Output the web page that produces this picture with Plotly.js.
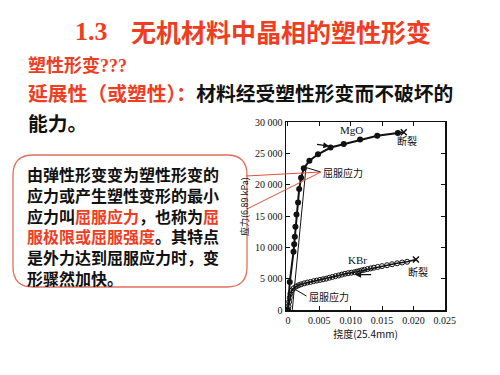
<!DOCTYPE html>
<html>
<head>
<meta charset="utf-8">
<script src="https://cdn.plot.ly/plotly-3.0.1.min.js"></script>
<style>
html,body{margin:0;padding:0;background:#fff;}
#chart{width:500px;height:375px;}
</style>
</head>
<body>
<div id="chart"></div>
<script>
// ---- data ----
var mgoX = [0, 0.0003, 0.0009, 0.0010, 0.0011, 0.0012, 0.00137, 0.00162, 0.00180, 0.0021, 0.00253, 0.00343, 0.0048, 0.0068, 0.0089, 0.0115, 0.01424, 0.01751];
var mgoY = [0, 4450, 9300, 10500, 11700, 13300, 15250, 17150, 19300, 21100, 22600, 23830, 24850, 25930, 26480, 27220, 27820, 28250];
var mgoBreak = [0.01846, 28360];
var offsetX = [0.0007, 0.0029];
var offsetY = [0, 22900];

var kbrX = [0, 0.0001, 0.0002, 0.0003, 0.0004, 0.0006, 0.0009, 0.0013, 0.0017, 0.0021, 0.0026, 0.0031, 0.0036, 0.0041, 0.0046, 0.0051, 0.0056, 0.0061, 0.0066, 0.0071, 0.0076, 0.0081, 0.0086, 0.0091, 0.0096, 0.0101, 0.0106, 0.0110, 0.0114, 0.0118, 0.0122, 0.0127, 0.0132, 0.0137, 0.0143, 0.0150, 0.0158, 0.0166, 0.0174, 0.0182, 0.0190];
var kbrY = [0, 600, 1300, 2000, 2600, 3100, 3450, 3750, 3950, 4100, 4250, 4380, 4480, 4600, 4700, 4800, 4900, 5000, 5150, 5280, 5400, 5520, 5650, 5780, 5880, 5950, 6030, 6120, 6220, 6330, 6430, 6530, 6640, 6750, 6870, 7000, 7150, 7300, 7450, 7580, 7700];
var kbrBreak = [0.0204, 8050];

var xTickVals = [0, 0.005, 0.010, 0.015, 0.020, 0.025];
var xTickText = ['0', '0.005', '0.010', '0.015', '0.020', '0.025'];
var yTickVals = [0, 5000, 10000, 15000, 20000, 25000, 30000];
var yTickText = ['0', '5 000', '10 000', '15 000', '20 000', '25 000', '30 000'];

var RED = '#ee3d1f';
var BOXRED = '#e0705c';
var CJK = 'Noto Sans CJK SC, sans-serif';
var SERIF = 'Liberation Serif, DejaVu Serif, serif';

var ML = 286, MR = 55, MT = 122, MB = 65, W = 500, H = 375;
var PW = W - ML - MR, PH = H - MT - MB;
function paperX(px) { return (px - ML) / PW; }
function paperY(py) { return (H - MB - py) / PH; }

var traces = [
  {x: offsetX, y: offsetY, mode: 'lines', line: {color: '#111', width: 1}, hoverinfo: 'skip', showlegend: false},
  {x: mgoX, y: mgoY, mode: 'lines+markers', line: {color: '#111', width: 2},
   marker: {symbol: 'circle', size: 6, color: '#111'}, showlegend: false, name: 'MgO'},
  {x: [mgoX[mgoX.length - 1], mgoBreak[0]], y: [mgoY[mgoY.length - 1], mgoBreak[1]], mode: 'lines',
   line: {color: '#111', width: 2}, showlegend: false},
  {x: [mgoBreak[0]], y: [mgoBreak[1]], mode: 'markers', marker: {symbol: 'x-thin-open', size: 6, color: '#111', line: {color: '#111', width: 1.5}}, showlegend: false},
  {x: kbrX, y: kbrY, mode: 'lines+markers', line: {color: '#111', width: 1.5},
   marker: {symbol: 'circle-open', size: 5, color: '#111', line: {width: 1}}, showlegend: false, name: 'KBr'},
  {x: [kbrX[kbrX.length - 1], kbrBreak[0]], y: [kbrY[kbrY.length - 1], kbrBreak[1]], mode: 'lines',
   line: {color: '#111', width: 1.5}, showlegend: false},
  {x: [kbrBreak[0]], y: [kbrBreak[1]], mode: 'markers', marker: {symbol: 'x-thin-open', size: 6, color: '#111', line: {color: '#111', width: 1.5}}, showlegend: false}
];

var boxText = [
  '由弹性形变变为塑性形变的',
  '应力或产生塑性变形的最小',
  '应力叫<span style="color:' + RED + '">屈服应力</span>，也称为<span style="color:' + RED + '">屈</span>',
  '<span style="color:' + RED + '">服极限或屈服强度</span>。其特点',
  '是外力达到屈服应力时，变',
  '形骤然加快。'
].join('<br>');

var annotations = [
  {xref: 'paper', yref: 'paper', x: paperX(73), y: paperY(31), xanchor: 'left', yanchor: 'middle', showarrow: false,
   text: '<b>1.3</b>', font: {family: SERIF, size: 26, color: RED}},
  {xref: 'paper', yref: 'paper', x: paperX(129), y: paperY(31), xanchor: 'left', yanchor: 'middle', showarrow: false,
   text: '<b>无机材料中晶相的塑性形变</b>', font: {family: CJK, size: 25, color: RED}},
  {xref: 'paper', yref: 'paper', x: paperX(26), y: paperY(64), xanchor: 'left', yanchor: 'middle', showarrow: false,
   text: '<b>塑性形变<span style="font-family:Liberation Serif">???</span></b>', font: {family: CJK, size: 18, color: RED}},
  {xref: 'paper', yref: 'paper', x: paperX(26), y: paperY(92), xanchor: 'left', yanchor: 'middle', showarrow: false,
   text: '<b>延展性（或塑性）：<span style="color:#111">材料经受塑性形变而不破坏的</span></b>', font: {family: CJK, size: 19.8, color: RED}},
  {xref: 'paper', yref: 'paper', x: paperX(26), y: paperY(122), xanchor: 'left', yanchor: 'middle', showarrow: false,
   text: '<b>能力。</b>', font: {family: CJK, size: 19.8, color: '#111'}},
  // callout box text
  {xref: 'paper', yref: 'paper', x: paperX(25), y: paperY(226), xanchor: 'left', yanchor: 'middle', align: 'left',
   showarrow: false, text: '<b>' + boxText + '</b>', font: {family: CJK, size: 16, color: '#111'}},
  // y axis title (sits inside the callout box edge, as in the slide)
  {xref: 'paper', yref: 'paper', x: paperX(244), y: paperY(207), xanchor: 'center', yanchor: 'middle', textangle: -90,
   showarrow: false, text: '应力(6.89 kPa)', font: {family: CJK, size: 9, color: '#111'}},
  // chart labels
  {x: 0.0101, y: 28730, text: 'MgO', showarrow: false, font: {family: SERIF, size: 11, color: '#111'}},
  {x: 0.0190, y: 26970, text: '断裂', showarrow: false, font: {family: CJK, size: 10, color: '#111'}},
  {x: 0.0053, y: 22020, xanchor: 'left', text: '屈服应力', showarrow: false, font: {family: CJK, size: 10, color: '#111'}},
  {x: 0.0111, y: 7980, text: 'KBr', showarrow: false, font: {family: SERIF, size: 11, color: '#111'}},
  {x: 0.0207, y: 6220, text: '断裂', showarrow: false, font: {family: CJK, size: 10, color: '#111'}},
  {x: 0.0031, y: 2230, xanchor: 'left', text: '屈服应力', showarrow: false, font: {family: CJK, size: 10, color: '#111'}},
  // direction arrows
  {x: 0.0066, y: 26150, ax: 0.0044, ay: 26450, axref: 'x', ayref: 'y', text: '', showarrow: true,
   arrowhead: 2, arrowsize: 1, arrowwidth: 1.2, arrowcolor: '#111'},
  {x: 0.0107, y: 5630, ax: 0.0135, ay: 5650, axref: 'x', ayref: 'y', text: '', showarrow: true,
   arrowhead: 2, arrowsize: 1, arrowwidth: 1.2, arrowcolor: '#111'}
];

var shapes = [
  // callout box
  {type: 'path', xref: 'paper', yref: 'paper', layer: 'below',
   path: (function () {
     var l = 13, t = 155, r = 247, b = 287, rad = 20;
     function P(x, y) { return paperX(x) + ',' + paperY(y); }
     return 'M' + P(l + rad, t) + ' L' + P(r - rad, t) + ' Q' + P(r, t) + ' ' + P(r, t + rad) +
       ' L' + P(r, b - rad) + ' Q' + P(r, b) + ' ' + P(r - rad, b) +
       ' L' + P(l + rad, b) + ' Q' + P(l, b) + ' ' + P(l, b - rad) +
       ' L' + P(l, t + rad) + ' Q' + P(l, t) + ' ' + P(l + rad, t) + ' Z';
   })(),
   line: {color: BOXRED, width: 1.3}, fillcolor: 'rgba(0,0,0,0)'},
  // callout leader lines
  {type: 'line', xref: 'paper', yref: 'paper', x0: paperX(246), y0: paperY(176), x1: paperX(321), y1: paperY(172),
   line: {color: '#e0503a', width: 1}},
  {type: 'line', xref: 'paper', yref: 'paper', x0: paperX(247), y0: paperY(209), x1: paperX(321), y1: paperY(172),
   line: {color: '#e0503a', width: 1}},
  // yield stress pointers
  {type: 'line', xref: 'x', yref: 'y', x0: 0.00296, y0: 22710, x1: 0.0051, y1: 22070, line: {color: '#111', width: 1}},
  {type: 'line', xref: 'x', yref: 'y', x0: 0.00084, y0: 3460, x1: 0.00296, y1: 2230, line: {color: '#111', width: 1}}
];

var layout = {
  width: W, height: H,
  margin: {l: ML, r: MR, t: MT, b: MB, pad: 0},
  paper_bgcolor: '#fff', plot_bgcolor: 'rgba(0,0,0,0)',
  showlegend: false,
  xaxis: {
    range: [-0.0003, 0.02503], tickvals: xTickVals, ticktext: xTickText,
    ticks: 'inside', ticklen: 4, tickwidth: 1, tickcolor: '#111', mirror: 'ticks',
    showline: true, linecolor: '#111', linewidth: 1.5, showgrid: false, zeroline: false,
    tickfont: {family: SERIF, size: 10, color: '#111'},
    title: {text: '挠度(25.4mm)', font: {family: CJK, size: 10, color: '#111'}, standoff: 4}
  },
  yaxis: {
    range: [0, 30000], tickvals: yTickVals, ticktext: yTickText,
    ticks: 'inside', ticklen: 4, tickwidth: 1, tickcolor: '#111', mirror: 'ticks',
    showline: true, linecolor: '#111', linewidth: 1.5, showgrid: false, zeroline: false,
    tickfont: {family: SERIF, size: 10, color: '#111'}
  },
  annotations: annotations,
  shapes: shapes
};

Plotly.newPlot('chart', traces, layout, {displayModeBar: false, staticPlot: true});
</script>
</body>
</html>
